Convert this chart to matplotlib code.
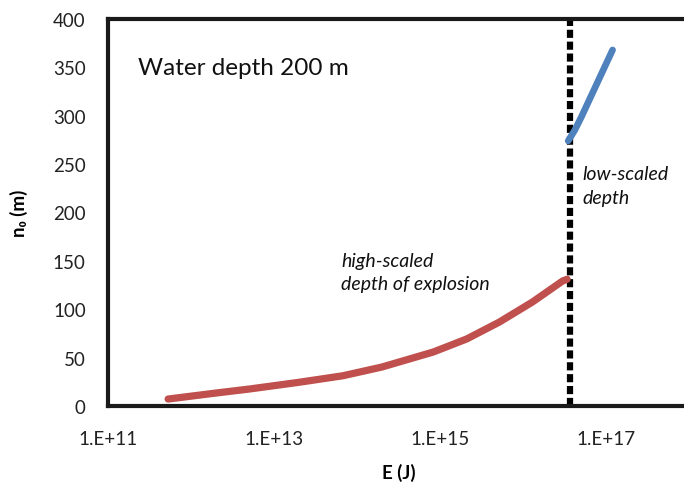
import matplotlib
matplotlib.use("Agg")
import matplotlib.pyplot as plt
import numpy as np

plt.rcParams['font.family'] = ['Lato', 'DejaVu Sans']

# Data
red_E = [5.3e11, 2.0e12, 5.1e12, 2.0e13, 6.8e13, 2.0e14, 8.3e14, 2.1e15, 5.2e15, 1.3e16, 3.0e16, 3.4e16]
red_n = [7.2, 13.4, 17.6, 24.5, 31.3, 40.3, 55.8, 69.3, 86.8, 107.5, 129.2, 131]
blue_E = [3.5e16, 4.2e16, 5.0e16, 1.2e17]
blue_n = [274, 285, 298, 368]
divider_E = 3.7e16
xticks = [1e11, 1e13, 1e15, 1e17]
xticklabels = ["1.E+11", "1.E+13", "1.E+15", "1.E+17"]
yticks = list(range(0, 401, 50))

fig = plt.figure(figsize=(6.84, 4.89), dpi=100)
ax = fig.add_axes([108/684, 82/489, 581/684, 387/489])

ax.plot(red_E, red_n, color='#C0504D', lw=5.2, solid_capstyle='round',
        solid_joinstyle='round', zorder=3)
ax.plot(blue_E, blue_n, color='#4F81BD', lw=4.8, solid_capstyle='round',
        solid_joinstyle='round', zorder=3)
ax.axvline(divider_E, color='black', lw=4.5, linestyle=(0, (1.3, 0.6)), zorder=2)

ax.set_xscale('log')
ax.set_xlim(1e11, 1e18)
ax.set_ylim(0, 400)
ax.set_xticks(xticks)
ax.set_xticklabels(xticklabels)
ax.xaxis.set_minor_locator(matplotlib.ticker.NullLocator())
ax.set_yticks(yticks)
ax.tick_params(length=0, labelsize=13.5, colors='#222222')
ax.tick_params(axis='x', pad=17)
ax.tick_params(axis='y', pad=16)

for s in ['left', 'bottom', 'top']:
    ax.spines[s].set_linewidth(3)
    ax.spines[s].set_color('#1a1a1a')
ax.spines['right'].set_visible(False)

ax.set_xlabel("E (J)", fontsize=13.5, fontweight='bold', labelpad=12)
ax.set_ylabel("n₀ (m)", fontsize=13.5, fontweight='bold', labelpad=18)

ax.text(10**11.36, 350, "Water depth 200 m", fontsize=17.5, va='center', ha='left', color='#111111')
ax.text(10**13.81, 150, "high-scaled", fontsize=14, style='italic', ha='left', va='center', color='#111111')
ax.text(10**13.81, 127, "depth of explosion", fontsize=14, style='italic', ha='left', va='center', color='#111111')
ax.text(10**16.72, 240, "low-scaled", fontsize=14, style='italic', ha='left', va='center', color='#111111')
ax.text(10**16.72, 215, "depth", fontsize=14, style='italic', ha='left', va='center', color='#111111')

fig.savefig("out.png", dpi=100)
